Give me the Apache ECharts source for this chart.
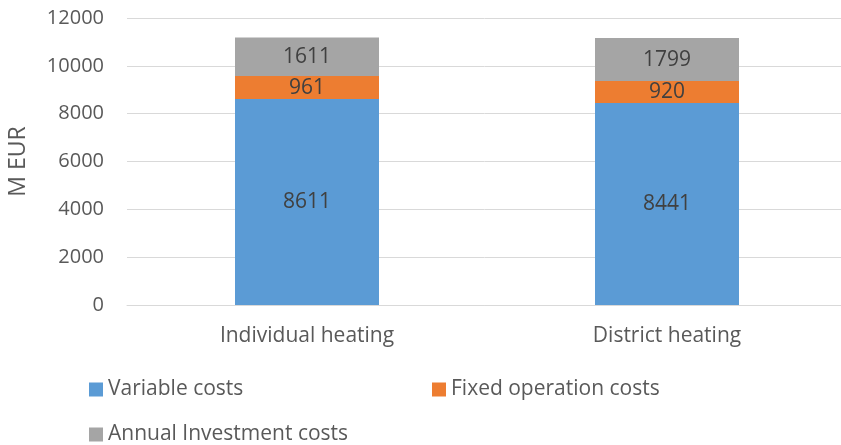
<!DOCTYPE html>
<html>
<head>
<meta charset="utf-8">
<script src="https://cdn.jsdelivr.net/npm/echarts@6/dist/echarts.min.js"></script>
<style>
  html, body { margin: 0; padding: 0; background: #fff; }
  #cost-chart { width: 841px; height: 445px; }
</style>
</head>
<body>
<div id="cost-chart"></div>
<script>
const categories = ["Individual heating", "District heating"];
const variableCosts = [8611, 8441];
const fixedCosts = [961, 920];
const investmentCosts = [1611, 1799];
const yTicks = [0, 2000, 4000, 6000, 8000, 10000, 12000];

const chart = echarts.init(document.getElementById("cost-chart"));
const font = "Open Sans";
const labelStyle = {
  show: true,
  position: "inside",
  color: "#404040",
  fontSize: 21,
  fontFamily: font
};

function legendAt(name, left, top) {
  return {
    data: [name],
    left: left,
    top: top,
    padding: 0,
    icon: "rect",
    itemWidth: 14,
    itemHeight: 14,
    textStyle: { color: "#595959", fontSize: 21, fontFamily: font },
    selectedMode: false
  };
}

let option = {
  animation: false,
  grid: { left: 127, top: 18, width: 720, height: 287, outerBoundsMode: "none" },
  legend: [
    legendAt("Variable costs", 89, 379),
    legendAt("Fixed operation costs", 432, 379),
    legendAt("Annual Investment costs", 89, 424)
  ],
  xAxis: {
    type: "category",
    data: categories,
    axisTick: { show: false },
    axisLine: { lineStyle: { color: "#d9d9d9" } },
    axisLabel: { color: "#595959", fontSize: 21, fontFamily: font, margin: 21 }
  },
  yAxis: {
    type: "value",
    min: yTicks[0],
    max: yTicks[yTicks.length - 1],
    interval: 2000,
    name: "M EUR",
    nameLocation: "middle",
    nameGap: 97,
    nameTextStyle: { color: "#595959", fontSize: 23, fontFamily: font },
    axisLabel: {
      color: "#595959",
      fontSize: 20,
      fontFamily: font,
      margin: 23,
      formatter: v => String(v)
    },
    splitLine: { lineStyle: { color: "#d9d9d9" } }
  },
  series: [
    {
      name: "Variable costs",
      type: "bar",
      stack: "total",
      barWidth: "40%",
      itemStyle: { color: "#5b9bd5" },
      label: labelStyle,
      data: variableCosts
    },
    {
      name: "Fixed operation costs",
      type: "bar",
      stack: "total",
      itemStyle: { color: "#ed7d31" },
      label: labelStyle,
      data: fixedCosts
    },
    {
      name: "Annual Investment costs",
      type: "bar",
      stack: "total",
      itemStyle: { color: "#a5a5a5" },
      label: labelStyle,
      data: investmentCosts
    }
  ]
};

chart.setOption(option);
</script>
</body>
</html>
